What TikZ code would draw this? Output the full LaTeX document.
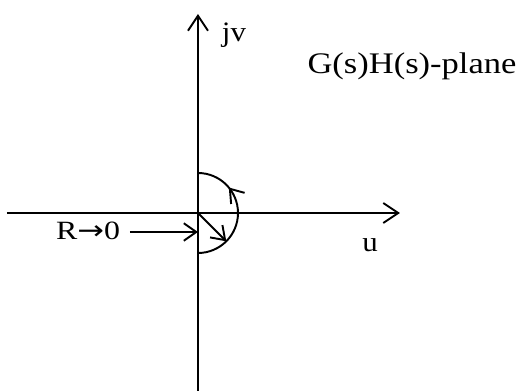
\documentclass[tikz,border=0pt]{standalone}
\usepackage{fontspec}
\setmainfont{Liberation Serif}
\newfontfamily\arrowfont{DejaVu Sans}
\usetikzlibrary{arrows.meta, decorations.markings, positioning}
\tikzset{
	axisline/.style={
			line width=1.1pt,
			-{Straight Barb[length=3mm, width=4mm, line width=1.1pt]}
		},
	pathline/.style={
			line width=1.1pt
		},
	labeltext/.style={
			inner sep=1pt,
			xscale=1.1,
			font=\fontsize{16}{18}\selectfont
		},
	planetext/.style={
			labeltext,
			xscale=1.05,
			font=\fontsize{17}{19}\selectfont
		}
}

\begin{document}
\begin{tikzpicture}
\useasboundingbox (-3.96,-3.56) rectangle (6.48,4.26);
\coordinate (o) at (0,0);
\coordinate (xl) at (-3.82,0);
\coordinate (xr) at (4.04,0);
\coordinate (yb) at (0,-3.56);
\coordinate (yt) at (0,3.98);
\coordinate (rs) at (-1.36,-0.38);
\coordinate (re) at (0,-0.38);

% axes
\draw[axisline] (xl) -- (xr);
\draw[axisline] (yb) -- (yt);

% small semicircle around the origin
\draw[pathline, postaction={decorate}, decoration={markings,
	mark=at position 0.72 with {\arrow{Straight Barb[length=2.5mm, width=3.5mm, line width=1.1pt]}}}]
	(0,-0.8) arc[start angle=-90, end angle=90, radius=0.8];
\draw[pathline, -{Straight Barb[length=2.5mm, width=3.5mm, line width=1.1pt]}] (o) -- (-45:0.8);

\node[labeltext] (jv) at (0.72,3.56) {jv};
\node[labeltext] (u) at (3.44,-0.64) {u};
\node[planetext] (plane) at (4.28,2.94) {G(s)H(s)-plane};
\node[labeltext, font=\fontsize{15}{17}\selectfont, xscale=1.1] (lim) at (-2.2,-0.36) {R{\arrowfont →}0};
\draw[pathline, -{Straight Barb[length=2.5mm, width=3.5mm, line width=1.1pt]}] (rs) -- (re);
\end{tikzpicture}
\end{document}
